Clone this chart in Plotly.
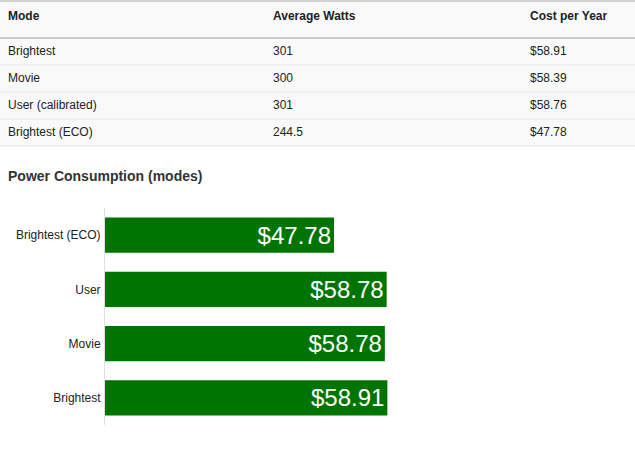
import plotly.graph_objects as go

# ---- data ----
table_headers = ["Mode", "Average Watts", "Cost per Year"]
table_modes = ["Brightest", "Movie", "User (calibrated)", "Brightest (ECO)"]
table_watts = ["301", "300", "301", "244.5"]
table_costs = ["$58.91", "$58.39", "$58.76", "$47.78"]

bar_categories = ["Brightest", "Movie", "User", "Brightest (ECO)"]
bar_values = [58.91, 58.39, 58.76, 47.78]
bar_labels = ["$58.91", "$58.78", "$58.78", "$47.78"]

W, H = 635, 451
FONT = "Liberation Sans, Arial, Helvetica, sans-serif"

fig = go.Figure()

# ---- table ----
header_h = 37
row_h = 27
table_top = 1
table_bottom = table_top + header_h + row_h * len(table_modes)

fig.add_trace(go.Table(
    domain=dict(x=[0, 1], y=[1 - table_bottom / H, 1 - table_top / H]),
    columnwidth=[265, 257, 113],
    header=dict(
        values=["<b>%s</b>" % h for h in table_headers],
        fill_color="#f9f9f9",
        line_color="#f9f9f9",
        align="left",
        height=header_h,
        font=dict(family=FONT, size=12, color="#222222"),
    ),
    cells=dict(
        values=[table_modes, table_watts, table_costs],
        fill_color="#f9f9f9",
        line_color="#f9f9f9",
        align="left",
        height=row_h,
        font=dict(family=FONT, size=12, color="#222222"),
    ),
))

# horizontal table rules
rules = [(table_top, "#d4d4d4", 2), (table_top + header_h, "#cccccc", 2)]
for i in range(1, len(table_modes) + 1):
    rules.append((table_top + header_h + row_h * i, "#e8e8e8", 1))
for ypx, col, w in rules:
    fig.add_shape(type="line", xref="paper", yref="paper",
                  x0=0, x1=1, y0=1 - ypx / H, y1=1 - ypx / H,
                  line=dict(color=col, width=w))

# ---- bar chart ----
fig.add_trace(go.Bar(
    x=bar_values,
    y=bar_categories,
    orientation="h",
    marker=dict(color="#007400", line=dict(width=0)),
    text=bar_labels,
    textposition="inside",
    insidetextanchor="end",
    constraintext="none",
    textfont=dict(family=FONT, size=24, color="white"),
    hoverinfo="skip",
    xaxis="x", yaxis="y",
))

plot_left = 105
plot_top = 208
plot_bottom = 425
fig.update_layout(
    width=W, height=H,
    margin=dict(l=0, r=0, t=0, b=0),
    paper_bgcolor="white",
    plot_bgcolor="white",
    showlegend=False,
    bargap=0.35,
    font=dict(family=FONT, size=12, color="#222222"),
    xaxis=dict(domain=[plot_left / W, 1], range=[0, (W - plot_left) / 4.793],
               visible=False, fixedrange=True),
    yaxis=dict(domain=[1 - plot_bottom / H, 1 - plot_top / H],
               showline=True, linecolor="#e0e0e0", linewidth=1,
               showgrid=False, zeroline=False, ticks="", ticklabelstandoff=1,
               tickfont=dict(family=FONT, size=12, color="#222222"),
               fixedrange=True),
    annotations=[dict(
        text="<b>Power Consumption (modes)</b>",
        xref="paper", yref="paper", x=6 / W, y=1 - 176 / H,
        xanchor="left", yanchor="middle", showarrow=False,
        font=dict(family=FONT, size=14, color="#333333"),
    )],
)

fig.write_html(
    "out.html",
    config={"displayModeBar": False},
    post_script="document.body.style.margin='0';document.body.style.padding='0';",
)
